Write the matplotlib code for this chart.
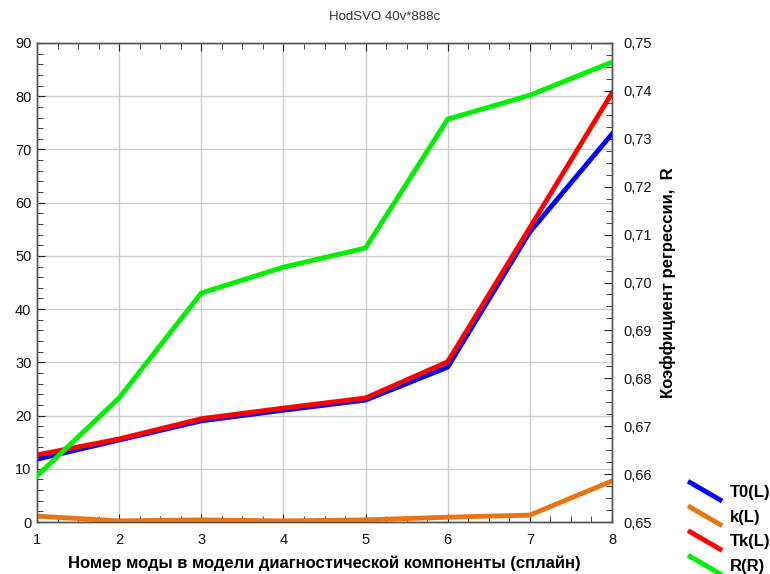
import matplotlib
matplotlib.use("Agg")
import matplotlib.pyplot as plt
from matplotlib.lines import Line2D
from matplotlib.legend_handler import HandlerBase
from matplotlib.ticker import MultipleLocator, FuncFormatter

plt.rcParams['font.family'] = ['Liberation Sans', 'DejaVu Sans']

modes = [1, 2, 3, 4, 5, 6, 7, 8]
t0_vals = [11.8, 15.4, 19.0, 21.0, 22.9, 29.1, 54.5, 72.9]
k_vals = [1.1, 0.2, 0.4, 0.2, 0.4, 0.9, 1.3, 7.7]
tk_vals = [12.6, 15.6, 19.4, 21.4, 23.3, 30.1, 55.3, 80.6]
r_vals = [0.6596, 0.6759, 0.6978, 0.7032, 0.7072, 0.7341, 0.7391, 0.7460]

title = "HodSVO 40v*888c"
xlabel = "Номер моды в модели диагностической компоненты (сплайн)"
ylabel_right = "Коэффициент регрессии,  R"
legend_labels = ["T0(L)", "k(L)", "Tk(L)", "R(R)"]
colors = ["#0000ff", "#e87511", "#ff0000", "#00ee00"]


class DiagonalHandler(HandlerBase):
    """Legend key drawn as a slanted line segment."""
    def create_artists(self, legend, orig_handle, xdescent, ydescent,
                       width, height, fontsize, trans):
        x0 = -xdescent
        y0 = -ydescent
        line = Line2D([x0, x0 + width], [y0 + height * 1.35, y0 - height * 0.35],
                      color=orig_handle.get_color(),
                      linewidth=orig_handle.get_linewidth(),
                      solid_capstyle='butt')
        line.set_transform(trans)
        return [line]


fig = plt.figure(figsize=(7.7, 5.74), dpi=100)
ax = fig.add_axes([37 / 770, 1 - 522 / 574, (612 - 37) / 770, (522 - 43) / 574])
ax2 = ax.twinx()

lw = 3.5
h1, = ax.plot(modes, t0_vals, color=colors[0], lw=lw, zorder=3)
h2, = ax.plot(modes, k_vals, color=colors[1], lw=lw, zorder=3)
h3, = ax.plot(modes, tk_vals, color=colors[2], lw=lw, zorder=4)
h4, = ax2.plot(modes, r_vals, color=colors[3], lw=lw, zorder=5)

ax.set_xlim(1, 8)
ax.set_ylim(0, 90)
ax2.set_ylim(0.65, 0.75)

ax.xaxis.set_major_locator(MultipleLocator(1))
ax.xaxis.set_minor_locator(MultipleLocator(0.25))
ax.yaxis.set_major_locator(MultipleLocator(10))
ax.yaxis.set_minor_locator(MultipleLocator(2))
ax2.yaxis.set_major_locator(MultipleLocator(0.01))
ax2.yaxis.set_minor_locator(MultipleLocator(0.0025))
ax2.yaxis.set_major_formatter(FuncFormatter(lambda v, p: f"{v:.2f}".replace('.', ',')))

ax.grid(True, which='major', color='#cccccc', linewidth=1.0)
ax.set_axisbelow(True)

ax.tick_params(axis='both', which='both', direction='in', top=True,
               colors='#222222', labelsize=10.5, labelcolor='#111111')
ax.tick_params(axis='both', which='major', length=6)
ax.tick_params(axis='both', which='minor', length=4)
ax.tick_params(axis='x', pad=8)
ax.tick_params(axis='y', pad=4)
ax2.tick_params(axis='y', which='both', direction='in', colors='#222222',
                labelsize=10.5, labelcolor='#111111', pad=8)
ax2.tick_params(axis='y', which='major', length=6)
ax2.tick_params(axis='y', which='minor', length=4)

for a in (ax, ax2):
    for s in a.spines.values():
        s.set_color('#555555')
        s.set_linewidth(1.0)

ax.set_xlabel(xlabel, fontsize=12, fontweight='bold', labelpad=6)
ax2.set_ylabel(ylabel_right, fontsize=12, fontweight='bold', labelpad=6)
fig.suptitle(title, x=0.5, y=0.98, fontsize=9.5, color='#333333')

fig.legend([h1, h2, h3, h4], legend_labels,
           handler_map={Line2D: DiagonalHandler()},
           loc='upper left', bbox_to_anchor=(688 / 770, 1 - 485 / 574),
           frameon=False, prop={'weight': 'bold', 'size': 12},
           handlelength=2.05, handletextpad=0.45, labelspacing=0.58,
           borderpad=0.0, borderaxespad=0.0)

fig.savefig("out.png", dpi=100)
